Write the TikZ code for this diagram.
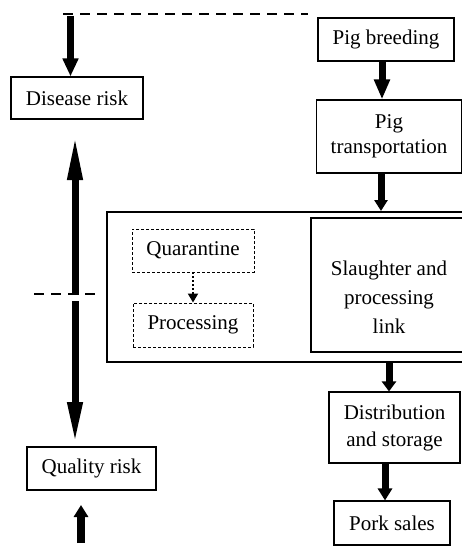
\documentclass[tikz,border=0pt]{standalone}
\usepackage{fontspec}
\setmainfont{Liberation Serif}
\usetikzlibrary{arrows.meta}
\begin{document}
\begin{tikzpicture}[x=1pt,y=-1pt,
  box/.style={draw, line width=1.1pt, inner sep=0pt, align=center,
    font=\fontsize{21}{27}\selectfont},
  dbox/.style={box, line width=0.9pt, dash pattern=on 3pt off 2pt},
  frame/.style={draw, line width=2pt, inner sep=0pt},
  fat/.style 2 args={line width=7pt, -{Triangle[length=#1pt,width=#2pt]}},
  dashline/.style={line width=2pt, dash pattern=on 10pt off 7pt},
  dotarrow/.style={line width=1.8pt, dash pattern=on 2pt off 2pt,
    -{Triangle[length=9pt,width=10pt]}}
]
\useasboundingbox (0,0) rectangle (462,548);
\clip (0,0) rectangle (462,548);

% boxes
\node[box, minimum width=132pt, minimum height=42pt] (dis) at (77,98) {Disease risk};
\node[box, minimum width=136pt, minimum height=43pt] (pb) at (386,39.5) {Pig breeding};
\node[box, minimum width=145pt, minimum height=73pt,
  font=\fontsize{21}{25}\selectfont] (tr) at (389,136.5) {Pig\\transportation};
\node[frame, minimum width=373pt, minimum height=150pt] (stage) at (293.5,287) {};
\node[box, minimum width=156pt, minimum height=134pt] (sl) at (389,285) {};
\node[align=center, inner sep=0pt, font=\fontsize{21}{29}\selectfont] (slt) at (389,297)
  {Slaughter and\\processing\\link};
\node[dbox, minimum width=122pt, minimum height=43pt] (qu) at (193,250.5) {Quarantine};
\node[dbox, minimum width=120pt, minimum height=44pt] (pr) at (193,325) {Processing};
\node[box, minimum width=129pt, minimum height=43pt] (qr) at (91.5,468.5) {Quality risk};
\node[box, minimum width=131pt, minimum height=71pt] (di) at (394.5,427.5) {Distribution\\and storage};
\node[box, minimum width=116pt, minimum height=44pt] (ps) at (392,523) {Pork sales};

% coordinates
\coordinate (d1) at (63,14);
\coordinate (d2) at (308,14);
\coordinate (tl) at (70.5,16);
\coordinate (a1) at (382,0);
\coordinate (a2) at (381,0);
\coordinate (a3) at (389,0);
\coordinate (a4) at (385,0);
\coordinate (m1) at (34,294);
\coordinate (m2) at (102,294);
\coordinate (u0) at (75,295);
\coordinate (u1) at (75,135);
\coordinate (v0) at (75,301);
\coordinate (v1) at (75,444);
\coordinate (s0) at (81,543);
\coordinate (s1) at (81,505);

% connectors
\draw[dashline] (d1) -- (d2);
\draw[fat={18}{15}] (tl) -- (dis.north -| tl);
\draw[fat={20}{15}] (pb.south -| a1) -- (tr.north -| a1);
\draw[fat={11}{13}] (tr.south -| a2) -- (stage.north -| a2);
\draw[fat={10}{14}] (stage.south -| a3) -- (di.north -| a3);
\draw[fat={12}{14}] (di.south -| a4) -- (ps.north -| a4);
\draw[dotarrow] (qu.south) -- (pr.north);
\draw[fat={45}{14}] (u0) -- (u1);
\draw[fat={42}{14}] (v0) -- (v1);
\draw[fat={12}{14}, line width=8pt] (s0) -- (s1);
\draw[dashline] (m1) -- (m2);
\end{tikzpicture}
\end{document}
